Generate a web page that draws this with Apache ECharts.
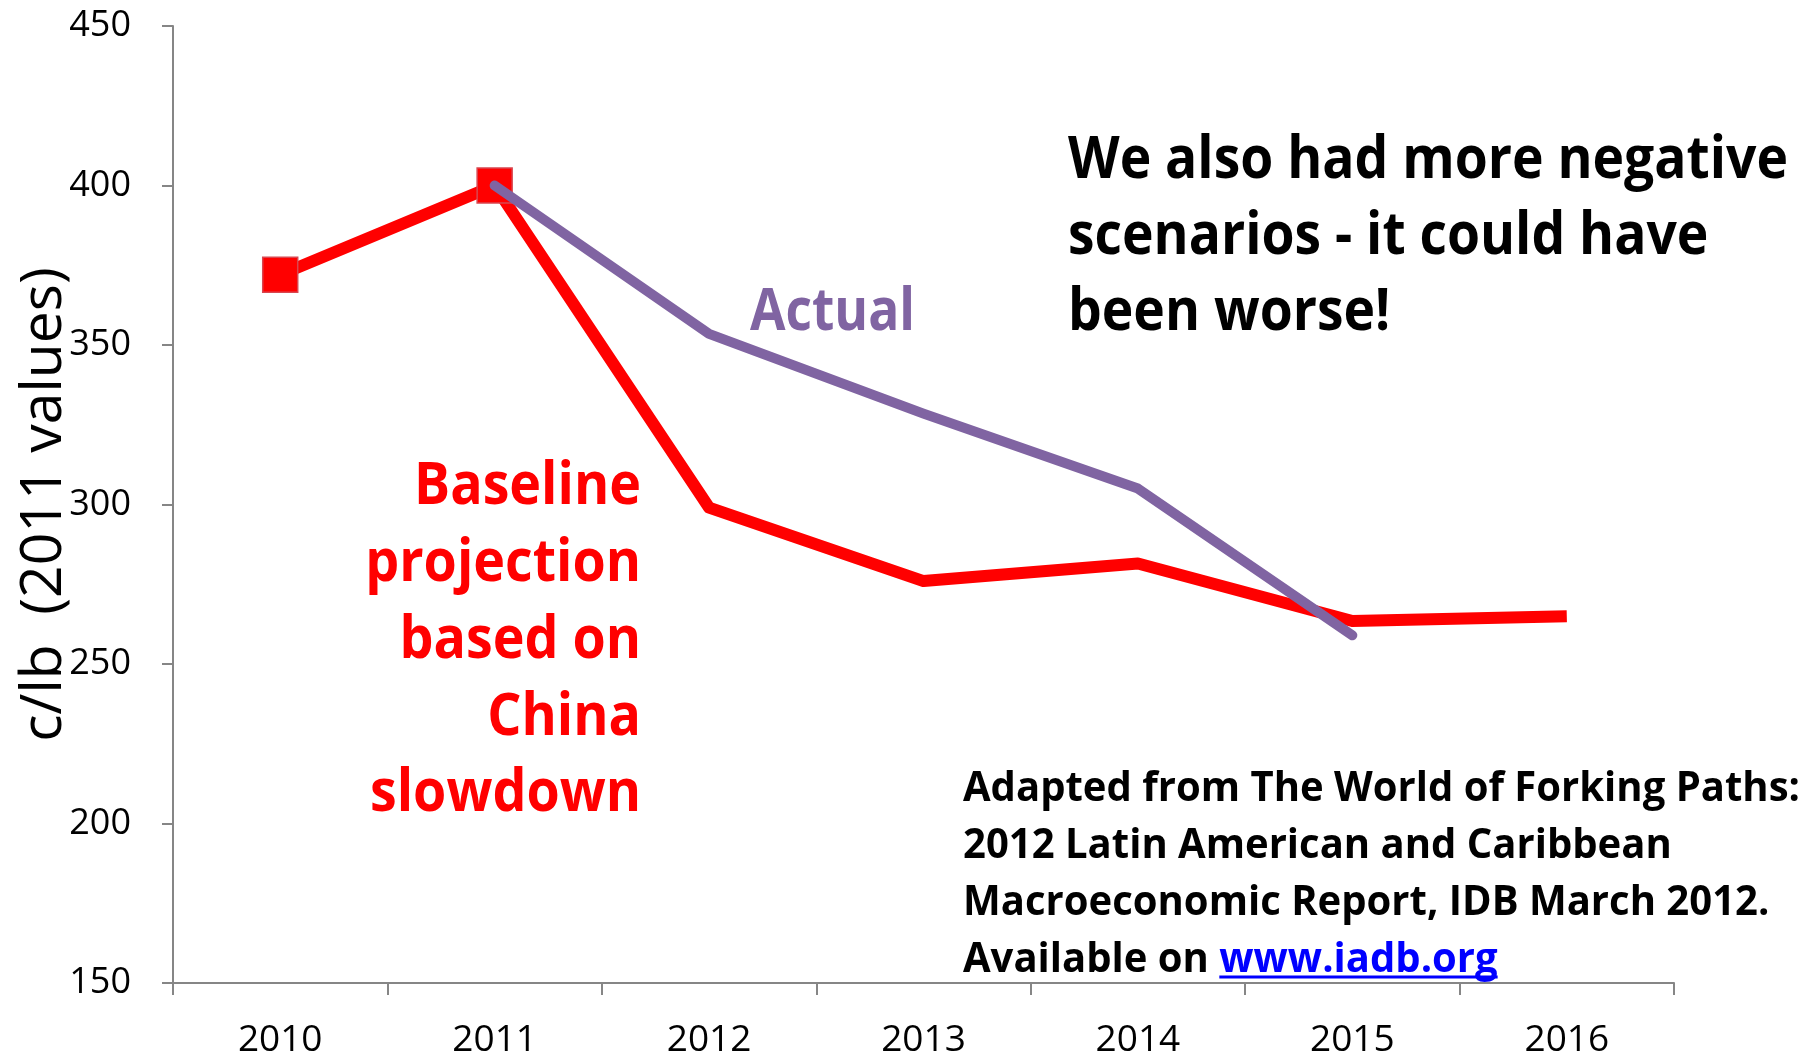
<!DOCTYPE html>
<html>
<head>
<meta charset="utf-8">
<script src="https://cdn.jsdelivr.net/npm/echarts@6/dist/echarts.min.js"></script>
<style>
html,body{margin:0;padding:0;background:#fff;}
#chart{width:1817px;height:1055px;}
</style>
</head>
<body>
<div id="chart"></div>
<script>
// Copper price paths, c/lb in 2011 values
const years = ['2010', '2011', '2012', '2013', '2014', '2015', '2016'];
const baseline = [372, 400, 299, 276, 281.5, 263.5, 265];
const actual = [null, 400, 353.5, 328.5, 305, 259, null];
const yTicks = { min: 150, max: 450, step: 50 };

const FONT = "'Open Sans', sans-serif";
const AXIS_GREY = '#868686';
const RED = '#FF0000';
const PURPLE = '#8064A2';

const chart = echarts.init(document.getElementById('chart'), null, { renderer: 'canvas' });

// Measure text so the annotation blocks can be condensed horizontally to a set width
const ctx = document.createElement('canvas').getContext('2d');
function textWidth(str, font) { ctx.font = font; return ctx.measureText(str).width; }
function condense(widestLine, font, width) { return width / textWidth(widestLine, font); }

const noteFont = 'bold 59px ' + FONT;
const srcFont = 'bold 42px ' + FONT;

const blackScale = condense('We also had more negative', noteFont, 720);
const redScale = condense('slowdown', noteFont, 271);
const actualScale = condense('Actual', noteFont, 165);
const srcScale = condense('Adapted from The World of Forking Paths:', srcFont, 837);

const srcLeft = 963;
const srcTop = 761;
const srcLine = 57;
const availW = textWidth('Available on ', srcFont) * srcScale;
const linkW = textWidth('www.iadb.org', srcFont) * srcScale;

chart.setOption({
  animation: false,
  backgroundColor: '#fff',
  grid: { left: 173, right: 143, top: 26, bottom: 72, outerBoundsMode: 'none', containLabel: false },
  xAxis: {
    type: 'category',
    data: years,
    boundaryGap: true,
    axisLine: { lineStyle: { color: AXIS_GREY, width: 2 } },
    axisTick: { show: true, length: 12, lineStyle: { color: AXIS_GREY, width: 2 } },
    axisLabel: { fontFamily: FONT, fontSize: 37, color: '#000', margin: 39 }
  },
  yAxis: {
    type: 'value',
    min: yTicks.min,
    max: yTicks.max,
    interval: yTicks.step,
    name: 'c/lb  (2011 values)',
    nameLocation: 'middle',
    nameRotate: 90,
    nameGap: 100,
    nameMoveOverlap: false,
    nameTextStyle: { fontFamily: FONT, fontSize: 57, color: '#000' },
    splitLine: { show: false },
    axisLine: { show: true, lineStyle: { color: AXIS_GREY, width: 2 } },
    axisTick: { show: true, length: 11, lineStyle: { color: AXIS_GREY, width: 2 } },
    axisLabel: { fontFamily: FONT, fontSize: 36, color: '#000', margin: 42 }
  },
  series: [
    {
      name: 'Baseline',
      type: 'line',
      data: baseline,
      symbol: (v, p) => (p.dataIndex < 2 ? 'rect' : 'none'),
      symbolSize: 35,
      itemStyle: { color: RED, borderColor: '#D9464F', borderWidth: 1.5 },
      lineStyle: { color: RED, width: 12, join: 'round' },
      z: 2
    },
    {
      name: 'Actual',
      type: 'line',
      data: actual,
      symbol: 'none',
      lineStyle: { color: PURPLE, width: 10, cap: 'round', join: 'round' },
      z: 3
    }
  ],
  graphic: [
    {
      type: 'text', x: 750, y: 275, scaleX: actualScale,
      style: { text: 'Actual', font: noteFont, fill: PURPLE, align: 'left', verticalAlign: 'top', lineHeight: 76 }
    },
    {
      type: 'text', x: 641, y: 449, scaleX: redScale,
      style: {
        text: 'Baseline\nprojection\nbased on\nChina\nslowdown',
        font: noteFont, fill: RED, align: 'right', verticalAlign: 'top', lineHeight: 76.8
      }
    },
    {
      type: 'text', x: 1068, y: 123, scaleX: blackScale,
      style: {
        text: 'We also had more negative\nscenarios - it could have\nbeen worse!',
        font: noteFont, fill: '#000', align: 'left', verticalAlign: 'top', lineHeight: 76
      }
    },
    {
      type: 'text', x: srcLeft, y: srcTop, scaleX: srcScale,
      style: {
        text: 'Adapted from The World of Forking Paths:\n2012 Latin American and Caribbean\nMacroeconomic Report, IDB March 2012.\nAvailable on',
        font: srcFont, fill: '#000', align: 'left', verticalAlign: 'top', lineHeight: srcLine
      }
    },
    {
      type: 'text', x: srcLeft + availW, y: srcTop + 3 * srcLine, scaleX: srcScale,
      style: {
        text: 'www.iadb.org',
        font: srcFont, fill: '#0000FF', align: 'left', verticalAlign: 'top', lineHeight: srcLine
      }
    },
    {
      type: 'line',
      shape: { x1: srcLeft + availW, y1: 977, x2: srcLeft + availW + linkW, y2: 977 },
      style: { stroke: '#0000FF', lineWidth: 3 }
    }
  ]
});
</script>
</body>
</html>
